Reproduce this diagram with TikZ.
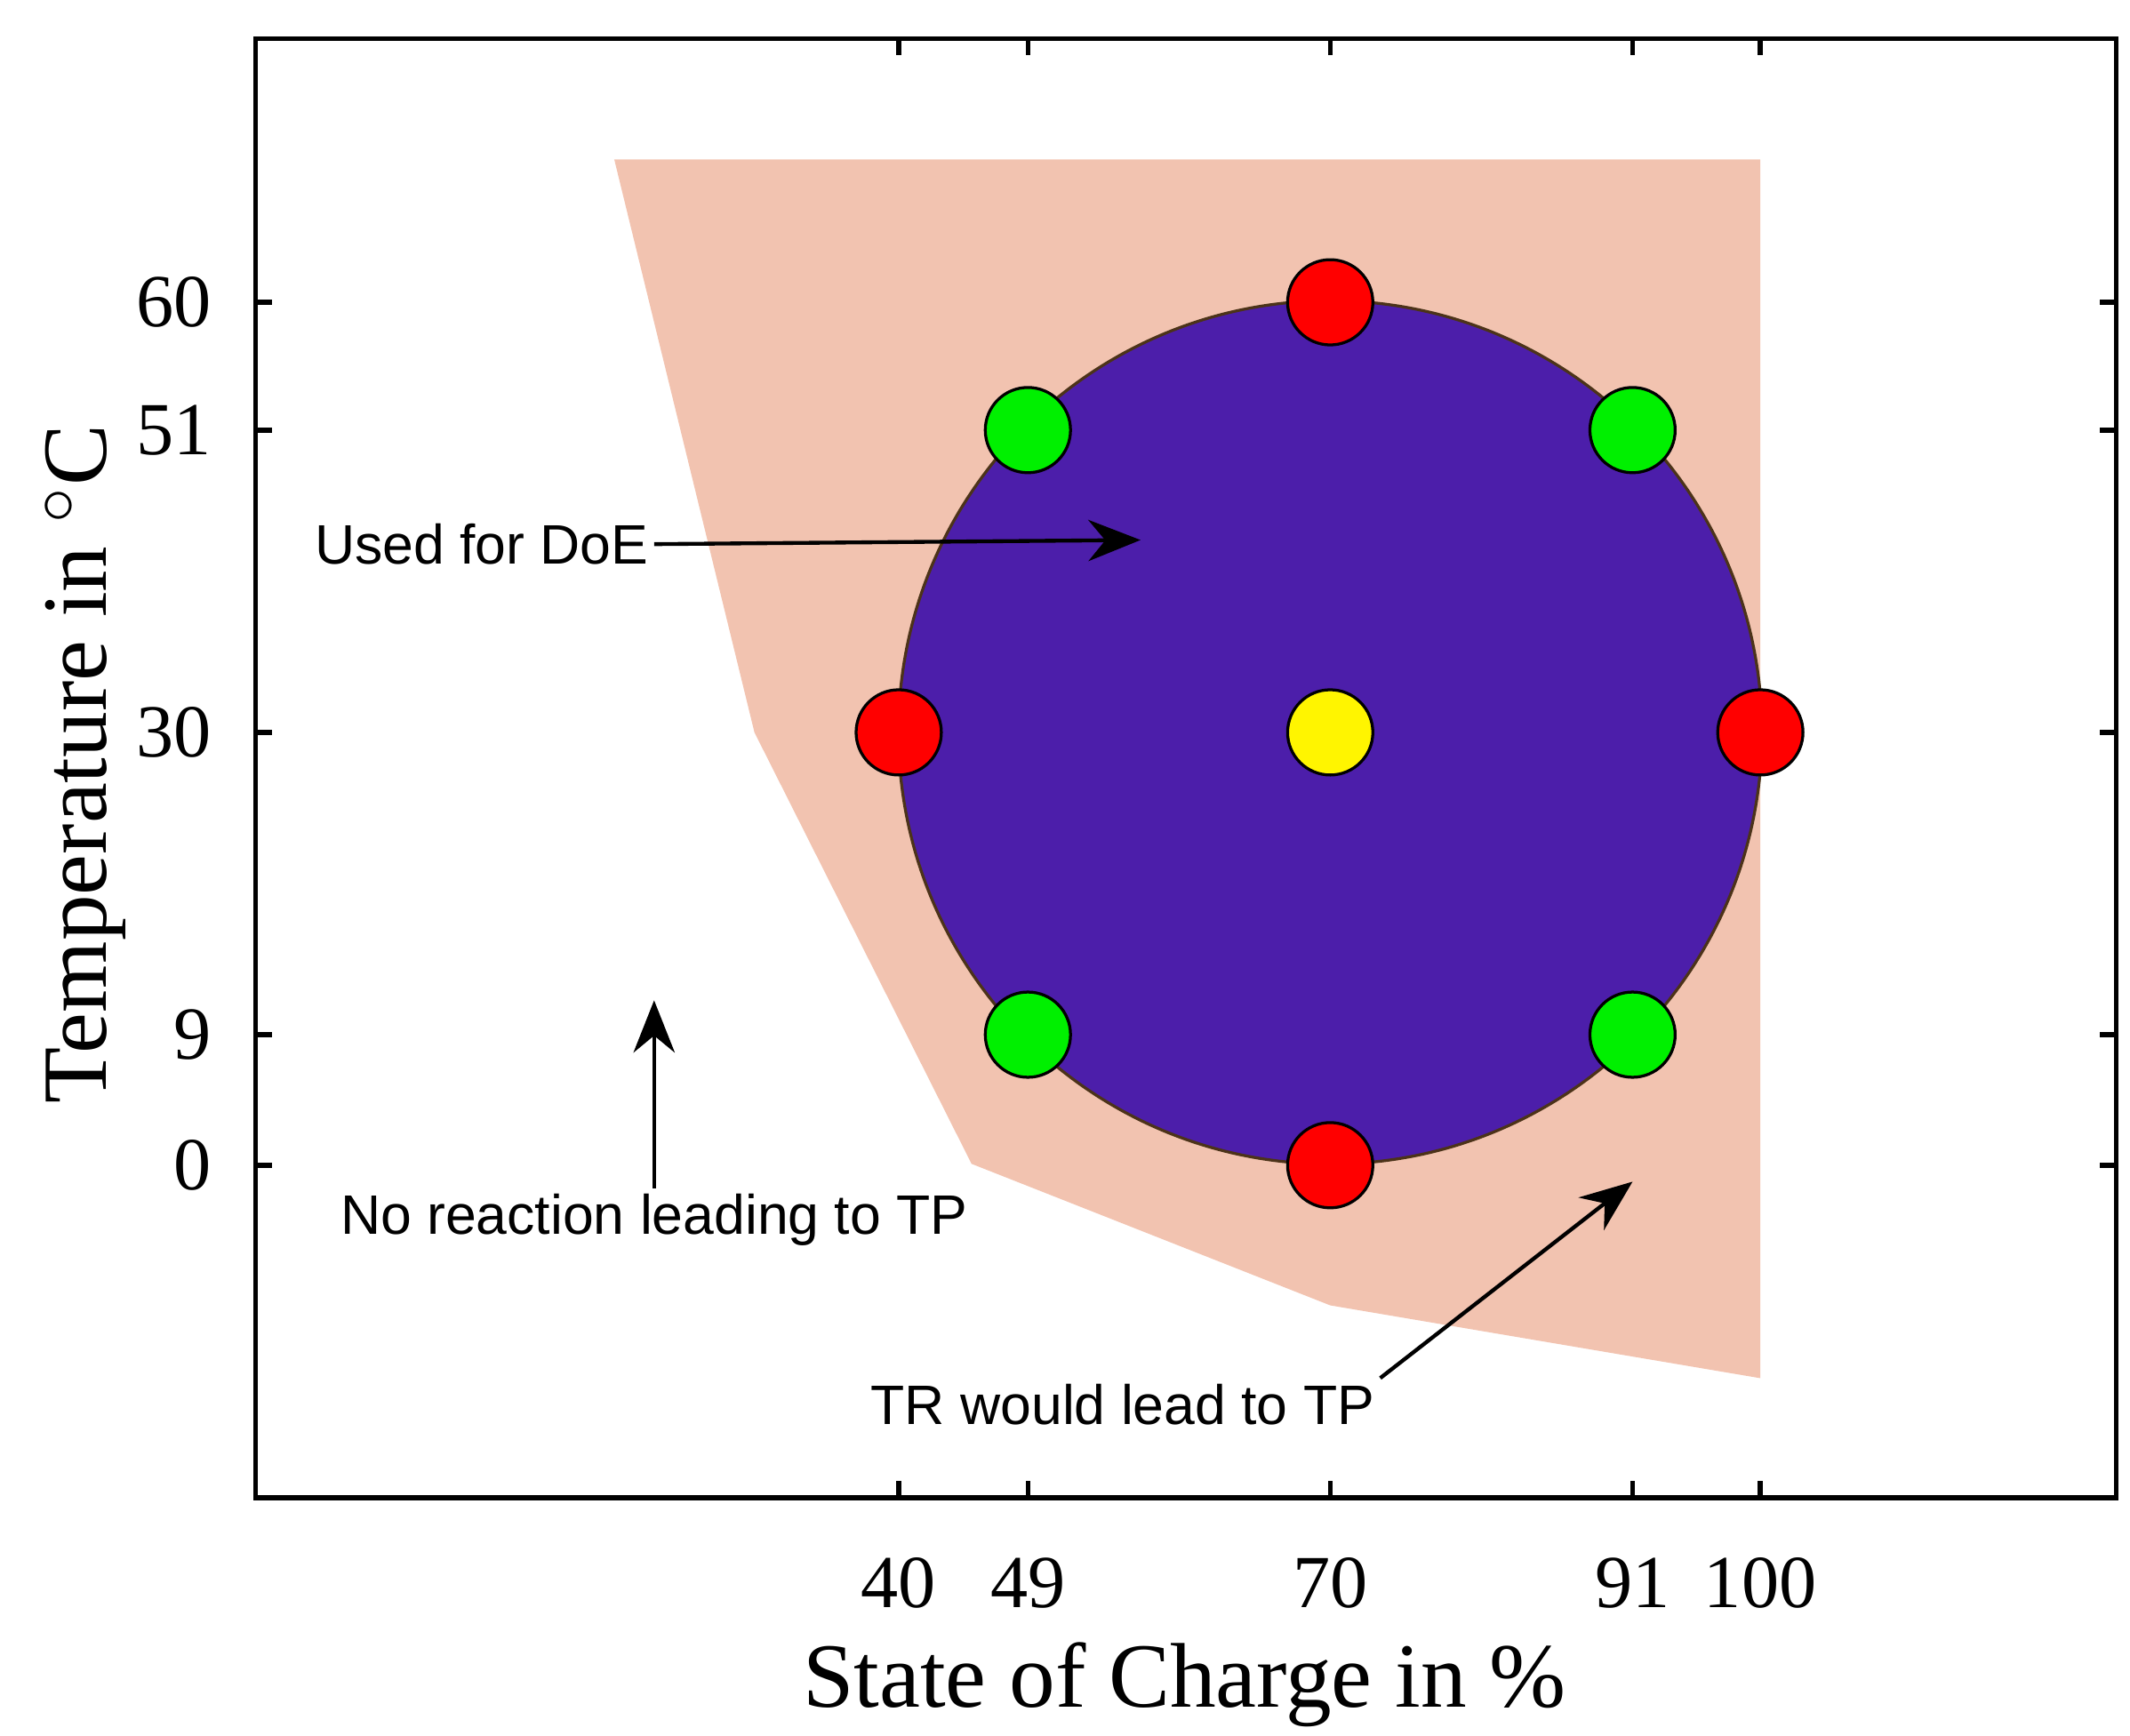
\documentclass[tikz,border=0pt]{standalone}
\usepackage{fontspec}
\setmainfont{Liberation Serif}
\newfontfamily\arial{Liberation Sans}
\usetikzlibrary{arrows.meta}
\definecolor{zone}{RGB}{242,195,176}
\definecolor{doe}{RGB}{76,30,170}
\definecolor{ptred}{RGB}{255,0,0}
\definecolor{ptgreen}{RGB}{0,240,0}
\definecolor{ptyel}{RGB}{255,245,0}
\begin{document}
\begin{tikzpicture}[x=0.01cm,y=-0.01cm,
  pt/.style={circle,draw=black,line width=0.6pt,minimum size=0.62cm,inner sep=0pt},
  ann/.style={font=\arial\fontsize{11.5}{13}\selectfont,inner sep=1pt},
  tk/.style={font=\fontsize{15.5}{17}\selectfont},
  arr/.style={-{Stealth[length=0.38cm,width=0.3cm]},line width=0.8pt}]
\useasboundingbox (0,0) rectangle (1550,1263);
\fill[zone] (447,116) -- (1281,116) -- (1281,1003) -- (968,950) -- (707,847) -- (549,533) -- cycle;
\node[circle,fill=doe,draw=black!60!brown,line width=0.6pt,minimum size=6.28cm,inner sep=0pt] (c) at (968,533) {};
\draw[line width=1pt] (186,28) rectangle (1540,1090);
\foreach \x/\l in {654/40,748/49,968/70,1188/91,1281/100}{
  \draw[line width=1pt] (\x,1090) -- (\x,1078) (\x,28) -- (\x,40);
  \node[tk] (x\l) at (\x,1152) {\l};}
\foreach \y/\l in {220/60,313/51,533/30,753/9,848/0}{
  \draw[line width=1pt] (186,\y) -- (198,\y) (1540,\y) -- (1528,\y);
  \node[tk,anchor=east] (y\l) at (166,\y) {\l};}
\node[font=\fontsize{19}{21}\selectfont] (xl) at (862,1226) {State of Charge in \%};
\node[font=\fontsize{19}{21}\selectfont,rotate=90] (yl) at (62,556) {Temperature in $^{\circ}$C};
\node[pt,fill=ptred] (p1) at (968,220) {};
\node[pt,fill=ptred] (p2) at (968,848) {};
\node[pt,fill=ptred] (p3) at (654,533) {};
\node[pt,fill=ptred] (p4) at (1281,533) {};
\node[pt,fill=ptgreen] (g1) at (748,313) {};
\node[pt,fill=ptgreen] (g2) at (1188,313) {};
\node[pt,fill=ptgreen] (g3) at (748,753) {};
\node[pt,fill=ptgreen] (g4) at (1188,753) {};
\node[pt,fill=ptyel] (y) at (968,533) {};
\node[ann,anchor=east] (t1) at (476,396) {Used for DoE};
\coordinate (a1) at (830,393);
\draw[arr] (t1.east) -- (a1);
\node[ann] (t2) at (476,888) {No reaction leading to TP};
\coordinate (a2) at (476,728);
\draw[arr] (t2.north) -- (a2);
\node[ann] (t3) at (817,1022) {TR would lead to TP};
\coordinate (a3) at (1188,860);
\draw[arr] (t3.north east) -- (a3);
\end{tikzpicture}
\end{document}
